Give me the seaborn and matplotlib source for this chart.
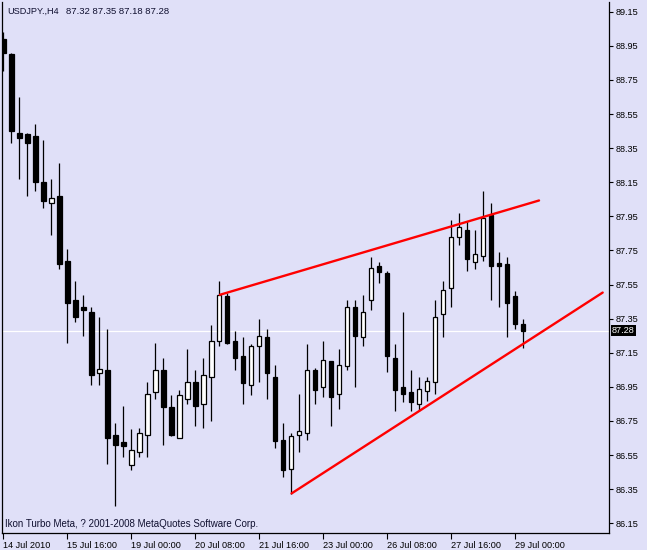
import numpy as np
import pandas as pd
import matplotlib
matplotlib.use("Agg")
import matplotlib.pyplot as plt
import matplotlib.transforms as mtransforms
import seaborn as sns

# ---------------- data ----------------
opens = [88.99, 88.90, 88.44, 88.43, 88.42, 88.15, 88.027, 88.07, 87.69, 87.46,
         87.416, 87.39, 87.032, 87.05, 86.67, 86.625, 86.49, 86.57, 86.67, 86.92,
         87.05, 86.83, 86.65, 86.88, 86.98, 86.85, 87.01, 87.22, 87.48, 87.22,
         87.13, 86.96, 87.19, 87.24, 87.01, 86.64, 86.47, 86.67, 86.68, 87.05,
         86.95, 87.10, 86.91, 87.07, 87.42, 87.24, 87.46, 87.659, 87.62, 87.12,
         86.95, 86.92, 86.85, 86.923, 86.98, 87.38, 87.53, 87.83, 87.87, 87.684,
         87.72, 87.96, 87.674, 87.67, 87.48, 87.32]
highs = [89.03, 88.91, 88.65, 88.44, 88.49, 88.40, 88.17, 88.26, 87.76, 87.57,
         87.49, 87.42, 87.36, 87.29, 86.74, 86.84, 86.70, 86.71, 86.98, 87.21,
         87.12, 86.90, 86.93, 87.17, 87.05, 87.12, 87.31, 87.57, 87.50, 87.28,
         87.24, 87.20, 87.35, 87.29, 87.08, 86.74, 86.68, 86.91, 87.20, 87.06,
         87.22, 87.10, 87.17, 87.46, 87.46, 87.49, 87.71, 87.68, 87.63, 87.20,
         87.39, 87.05, 87.01, 87.01, 87.46, 87.57, 87.93, 87.97, 87.92, 87.87,
         88.10, 88.03, 87.74, 87.71, 87.51, 87.35]
lows = [88.80, 88.38, 88.17, 88.07, 88.10, 88.00, 87.84, 87.64, 87.21, 87.33,
        87.25, 86.96, 86.96, 86.50, 86.25, 86.54, 86.46, 86.54, 86.54, 86.88,
        86.61, 86.66, 86.65, 86.85, 86.72, 86.71, 86.75, 87.19, 87.20, 87.05,
        86.85, 86.90, 86.98, 86.88, 86.59, 86.42, 86.32, 86.57, 86.64, 86.85,
        86.89, 86.72, 86.82, 87.05, 86.95, 87.19, 87.40, 87.56, 87.04, 86.81,
        86.86, 86.81, 86.81, 86.87, 86.91, 87.24, 87.42, 87.78, 87.63, 87.64,
        87.69, 87.46, 87.42, 87.24, 87.29, 87.18]
closes = [88.91, 88.45, 88.41, 88.38, 88.15, 88.04, 88.056, 87.67, 87.44, 87.36,
          87.40, 87.02, 87.054, 86.65, 86.61, 86.606, 86.58, 86.68, 86.91, 87.05,
          86.83, 86.67, 86.90, 86.98, 86.84, 87.02, 87.22, 87.49, 87.21, 87.12,
          86.97, 87.19, 87.25, 87.03, 86.63, 86.46, 86.66, 86.694, 87.05, 86.93,
          87.11, 86.89, 87.08, 87.42, 87.25, 87.39, 87.65, 87.625, 87.13, 86.93,
          86.91, 86.86, 86.94, 86.983, 87.36, 87.52, 87.83, 87.89, 87.70, 87.727,
          87.94, 87.66, 87.66, 87.44, 87.32, 87.28]

date_labels = ["14 Jul 2010", "15 Jul 16:00", "19 Jul 00:00", "20 Jul 08:00",
               "21 Jul 16:00", "23 Jul 00:00", "26 Jul 08:00", "27 Jul 16:00",
               "29 Jul 00:00"]
date_label_bars = [0, 8, 16, 24, 32, 40, 48, 56, 64]
price_ticks = [86.15, 86.35, 86.55, 86.75, 86.95, 87.15, 87.35, 87.55, 87.75,
               87.95, 88.15, 88.35, 88.55, 88.75, 88.95, 89.15]

upper_line_bars = [27.09, 67.0]
upper_line_prices = [87.49, 88.043]
lower_line_bars = [36.05, 74.96]
lower_line_prices = [86.325, 87.503]

last_price = 87.28
symbol_text = "USDJPY.,H4"
ohlc_text = "87.32 87.35 87.18 87.28"
footer_text = "Ikon Turbo Meta, ? 2001-2008 MetaQuotes Software Corp."

# ---------------- style ----------------
BG = "#E0E0F8"
sns.set_theme(style="white", rc={"axes.facecolor": BG, "figure.facecolor": BG})
plt.rcParams["font.family"] = ["Liberation Sans", "DejaVu Sans"]

df = pd.DataFrame({"bar": np.arange(len(opens)), "open": opens, "high": highs,
                   "low": lows, "close": closes})
df["bull"] = df["close"] >= df["open"]
df["bottom"] = df[["open", "close"]].min(axis=1)
df["height"] = (df["close"] - df["open"]).abs().clip(lower=0.006)

W, H = 647, 550
fig = plt.figure(figsize=(W / 100, H / 100), dpi=100, facecolor=BG)
ax = fig.add_axes([2 / W, 17 / H, 607 / W, 531 / H])
ax.set_facecolor(BG)

# current price line
ax.axhline(last_price, color="white", lw=0.9, zorder=1)

# wicks
ax.vlines(df["bar"], df["low"], df["high"], color="black", lw=0.9, zorder=2)
# bodies
face = np.where(df["bull"], "white", "black")
ax.bar(df["bar"], df["height"], bottom=df["bottom"], width=0.58, color=face,
       edgecolor="black", linewidth=0.9, zorder=3)

# trend lines
sns.lineplot(x=upper_line_bars, y=upper_line_prices, color="red", lw=1.7, ax=ax,
             zorder=4, legend=False)
sns.lineplot(x=lower_line_bars, y=lower_line_prices, color="red", lw=1.7, ax=ax,
             zorder=4, legend=False)

ax.set_xlim(-0.16, 75.75)
ax.set_ylim(86.093, 89.207)
ax.set_xlabel("")
ax.set_ylabel("")

# axes / ticks
for s in ["left", "right", "bottom"]:
    ax.spines[s].set_visible(True)
    ax.spines[s].set_color("black")
    ax.spines[s].set_linewidth(0.9)
ax.spines["top"].set_visible(False)

ax.yaxis.tick_right()
ax.set_yticks(price_ticks)
ax.set_yticklabels([f"{p:.2f}" for p in price_ticks])
ax.tick_params(axis="y", which="both", right=True, left=False, direction="out",
               length=3, width=0.8, pad=2, labelsize=6.6, colors="black")
ax.set_xticks(date_label_bars)
ax.set_xticklabels(date_labels)
ax.tick_params(axis="x", which="both", bottom=True, direction="out", length=4,
               width=0.8, pad=1.5, labelsize=6.6, colors="black")
for lab in ax.get_xticklabels():
    lab.set_ha("left")
ax.grid(False)

# price box
trans = mtransforms.blended_transform_factory(ax.transAxes, ax.transData)
ax.text(1.0 + 3 / 607, last_price, "87.28", transform=trans, color="white",
        fontsize=6.6, va="center", ha="left", clip_on=False, zorder=10,
        bbox=dict(facecolor="black", edgecolor="none", boxstyle="square,pad=0.15"))

fig.text(7 / W, 1 - 11.7 / H, symbol_text, fontsize=6.6, color="#101030",
         va="center", ha="left")
fig.text(66.5 / W, 1 - 11.7 / H, ohlc_text, fontsize=6.8, color="#101030",
         va="center", ha="left")
fig.text(5 / W, 1 - 524 / H, footer_text, fontsize=7.0, color="#101030",
         va="center", ha="left")

fig.savefig("out.png", dpi=100, facecolor=BG)
